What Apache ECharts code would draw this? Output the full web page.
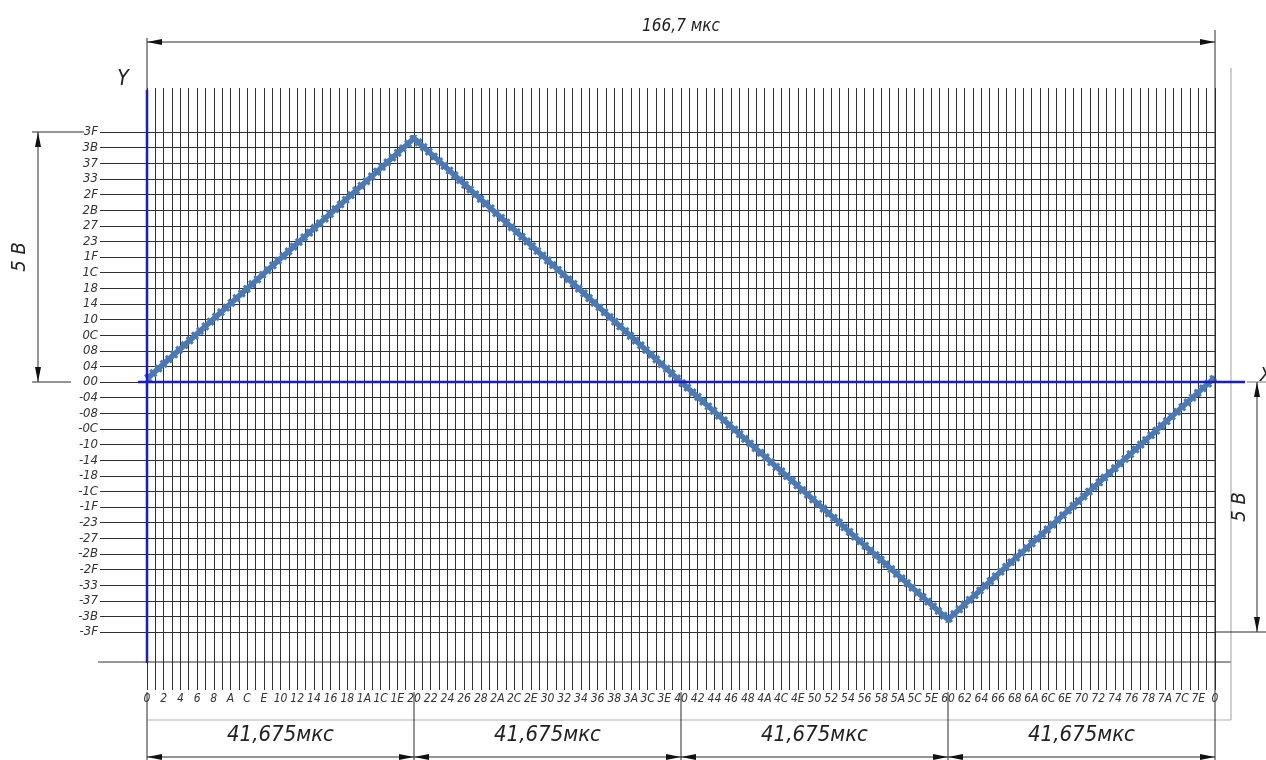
<!DOCTYPE html>
<html><head><meta charset="utf-8">
<script src="https://cdn.jsdelivr.net/npm/echarts@6/dist/echarts.min.js"></script>
<style>html,body{margin:0;padding:0;background:#fff}#c{width:1266px;height:760px}</style>
</head><body><div id="c"></div>
<script>
// ---- data ----
const xTickLabels = ['0','2','4','6','8','A','C','E','10','12','14','16','18','1A','1C','1E',
  '20','22','24','26','28','2A','2C','2E','30','32','34','36','38','3A','3C','3E',
  '40','42','44','46','48','4A','4C','4E','50','52','54','56','58','5A','5C','5E',
  '60','62','64','66','68','6A','6C','6E','70','72','74','76','78','7A','7C','7E','0'];
const yTickLabels = ['-3F','-3B','-37','-33','-2F','-2B','-27','-23','-1F','-1C','-18','-14','-10','-0C','-08','-04',
  '00','04','08','0C','10','14','18','1C','1F','23','27','2B','2F','33','37','3B','3F'];
const waveX = [0, 32, 64, 96, 128];          // sample index (hex 00, 20, 40, 60, 80)
const waveY = [0.2, 15.6, 0, -15.2, 0.3];    // level in grid rows
const periodLabel = '166,7 мкс';
const quarterLabels = ['41,675мкс', '41,675мкс', '41,675мкс', '41,675мкс'];
const quarterBounds = [0, 32, 64, 96, 128];
const amplitudeLabel = '5 В';

const FONT = "'DejaVu Sans Condensed', 'Liberation Sans Narrow', 'DejaVu Sans', sans-serif";
const GRIDC = '#303030';
const BLUE = '#1a1ad0';
const WAVE = '#4a79b6';

const chart = echarts.init(document.getElementById('c'), null, {renderer: 'canvas'});
const waveData = waveX.map((x, i) => [x, waveY[i]]);

chart.setOption({
  animation: false,
  backgroundColor: '#fff',
  grid: [
    {left: 147, right: 51, top: 88, bottom: 70},
    {left: 147, right: 51, top: 132, bottom: 128}
  ],
  xAxis: [
    {gridIndex: 0, type: 'value', min: 0, max: 128, interval: 1,
     axisLine: {show: false}, axisTick: {show: false},
     splitLine: {show: true, lineStyle: {color: GRIDC, width: 1}},
     axisLabel: {show: true, margin: 3, color: '#333', fontSize: 12, fontStyle: 'italic', fontFamily: FONT,
       formatter: v => (v % 2 === 0 ? xTickLabels[v / 2] : '')}},
    {gridIndex: 1, type: 'value', min: 0, max: 128, show: false}
  ],
  yAxis: [
    {gridIndex: 0, type: 'value', min: -1, max: 1, show: false},
    {gridIndex: 1, type: 'value', min: -16, max: 16, interval: 1,
     axisLine: {show: false},
     axisTick: {show: true, length: 47, lineStyle: {color: GRIDC, width: 1}},
     splitLine: {show: true, lineStyle: {color: GRIDC, width: 1}},
     axisLabel: {show: true, margin: 49, color: '#333', fontSize: 13, fontStyle: 'italic', fontFamily: FONT,
       formatter: v => yTickLabels[v + 16]}}
  ],
  series: [
    {type: 'line', xAxisIndex: 1, yAxisIndex: 1, data: waveData, symbol: 'none', z: 5,
     lineStyle: {color: WAVE, width: 5.5}},
    {type: 'line', xAxisIndex: 1, yAxisIndex: 1, data: waveData, symbol: 'none', z: 6,
     lineStyle: {color: WAVE, width: 9, type: [3, 4]}}
  ]
});

// ---- annotations positioned through the axes ----
const px = v => chart.convertToPixel({xAxisIndex: 1}, v);
const py = v => chart.convertToPixel({yAxisIndex: 1}, v);
const x0 = px(0), x1 = px(128), yTop = py(16), yZero = py(0), yBot = py(-16);
const g = [];
const DIM = '#2a2a2a';
function line(xa, ya, xb, yb, color, w) {
  g.push({type: 'line', shape: {x1: xa, y1: ya, x2: xb, y2: yb}, style: {stroke: color || DIM, lineWidth: w || 1}, z: 10});
}
function arrow(x, y, dir) { // tip at (x,y)
  const L = 15, W = 3;
  let pts;
  if (dir === 'l') pts = [[x, y], [x + L, y - W], [x + L, y + W]];
  if (dir === 'r') pts = [[x, y], [x - L, y - W], [x - L, y + W]];
  if (dir === 'u') pts = [[x, y], [x - W, y + L], [x + W, y + L]];
  if (dir === 'd') pts = [[x, y], [x - W, y - L], [x + W, y - L]];
  g.push({type: 'polygon', shape: {points: pts}, style: {fill: '#111'}, z: 11});
}
function text(str, x, y, size, rot) {
  g.push({type: 'text', x: x, y: y, rotation: rot || 0, z: 12,
    style: {text: str, fill: '#222', font: 'italic ' + size + 'px ' + FONT, textAlign: 'center', textVerticalAlign: 'middle'}});
}

// extra bottom horizontal line below -3F
const yExtra = yBot + 30;
line(98, yExtra, 1231, yExtra, GRIDC, 1);
// light frame
line(1231, 68, 1231, 720, '#b0b0b0', 1.2);
line(x0, 720, 1231, 720, '#b0b0b0', 1.2);
// blue axes
line(x0, 90, x0, yExtra + 1, BLUE, 2.5);
line(x0 - 9, yZero, 1245, yZero, BLUE, 2.5);
line(1247, yZero, 1266, yZero, '#777', 1);

// top dimension
const yDimTop = 42;
line(x0, 38, x0, 90);
line(x1, 30, x1, 760);
line(x0, yDimTop, x1, yDimTop);
arrow(x0, yDimTop, 'l'); arrow(x1, yDimTop, 'r');
text(periodLabel, (x0 + x1) / 2, 27, 17);

// bottom dimension
const yDimBot = 757;
for (let i = 0; i < quarterBounds.length - 1; i++) {
  const xb = px(quarterBounds[i]);
  line(xb, 692, xb, 760);
}
for (let i = 0; i < quarterLabels.length; i++) {
  const xa = px(quarterBounds[i]), xb = px(quarterBounds[i + 1]);
  line(xa, yDimBot, xb, yDimBot);
  arrow(xa, yDimBot, 'l'); arrow(xb, yDimBot, 'r');
  text(quarterLabels[i], (xa + xb) / 2, 735, 22);
}

// left amplitude dimension
line(32, yTop, 84, yTop);
line(32, yZero, 71, yZero);
line(38, yTop, 38, yZero);
arrow(38, yTop, 'u'); arrow(38, yZero, 'd');
text(amplitudeLabel, 20, (yTop + yZero) / 2, 20, Math.PI / 2);

// right amplitude dimension
line(x1, yBot, 1266, yBot);
line(1257, yZero, 1257, yBot);
arrow(1257, yZero, 'u'); arrow(1257, yBot, 'd');
text(amplitudeLabel, 1240, (yZero + yBot) / 2, 20, Math.PI / 2);

// axis names
text('Y', 123, 80, 21);
text('X', 1266, 376, 20);

chart.setOption({graphic: g});
</script>
</body></html>
